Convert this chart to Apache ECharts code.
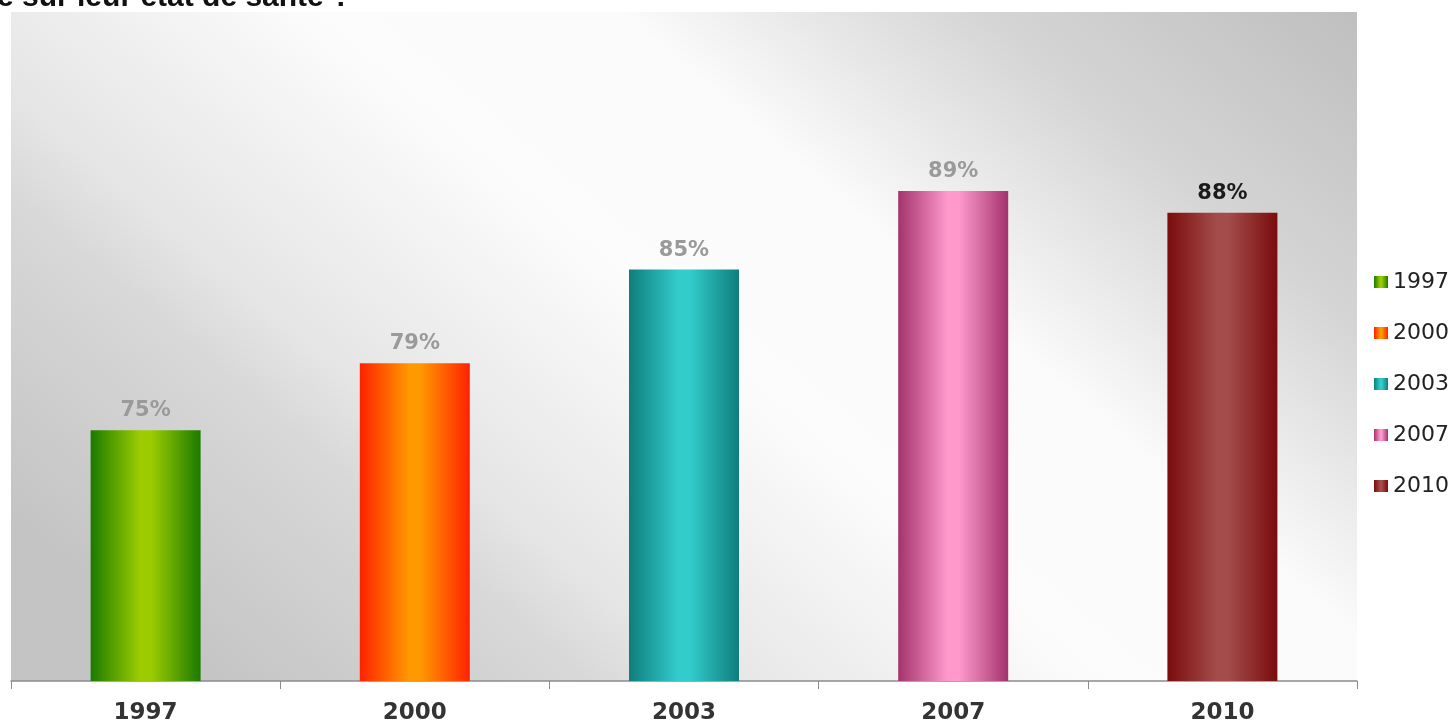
<!DOCTYPE html>
<html>
<head>
<meta charset="utf-8">
<script src="https://cdn.jsdelivr.net/npm/echarts@6/dist/echarts.min.js"></script>
<style>
    html, body {margin: 0; padding: 0; background: #fff;}
    #chart {width: 1456px; height: 725px;}
</style>
</head>
<body>
<div id="chart"></div>
<script>
var years = ['1997', '2000', '2003', '2007', '2010'];
var values = [75, 79, 84.6, 89.3, 88];
// couleurs des barres : bord, centre
var edgeColors = ['#1b7a00', '#ff2200', '#0e7e7c', '#a3336c', '#7a0c0c'];
var midColors = ['#9ccc00', '#ff9900', '#33cccc', '#ff99cc', '#a44c4c'];
var labelColors = ['#9a9a9a', '#9a9a9a', '#9a9a9a', '#9a9a9a', '#1a1a1a'];

function barGradient(i) {
    return new echarts.graphic.LinearGradient(0, 0, 1, 0, [
        {offset: 0, color: edgeColors[i]},
        {offset: 0.45, color: midColors[i]},
        {offset: 0.55, color: midColors[i]},
        {offset: 1, color: edgeColors[i]}
    ]);
}

var series = [];
for (var i = 0; i < years.length; i++) {
    var d = [];
    for (var j = 0; j < years.length; j++) {
        d.push(j == i ? values[i] : '-');
    }
    series.push({
        name: years[i],
        type: 'bar',
        stack: 'total',
        barWidth: 110,
        data: d,
        itemStyle: {color: barGradient(i)},
        label: {
            show: true,
            position: 'top',
            distance: 9,
            fontFamily: 'DejaVu Sans',
            fontSize: 21,
            fontWeight: 'bold',
            color: labelColors[i],
            formatter: function (p) {
                return Math.round(p.value) + '%';
            }
        }
    });
}

var myChart = echarts.init(document.getElementById('chart'));
myChart.setOption({
    animation: false,
    textStyle: {fontFamily: 'Liberation Sans'},
    graphic: [{
        type: 'text',
        x: -3,
        y: 13,
        style: {
            text: 'e sur leur état de santé ?',
            font: 'bold 30px "Liberation Sans"',
            fill: '#111',
            verticalAlign: 'bottom'
        }
    }],
    legend: {
        orient: 'vertical',
        left: 1374,
        top: 271,
        padding: 0,
        icon: 'rect',
        itemWidth: 14,
        itemHeight: 12,
        itemGap: 29,
        data: years,
        textStyle: {fontFamily: 'DejaVu Sans', fontSize: 22, color: '#222'}
    },
    grid: {
        left: 11,
        right: 99,
        top: 12,
        bottom: 42,
        show: true,
        borderWidth: 0,
        // bande claire en diagonale, gris en bas a gauche et en haut a droite
        backgroundColor: new echarts.graphic.LinearGradient(0.284, 1.24, 0.906, -0.242, [
            {offset: 0, color: '#c4c4c4'},
            {offset: 0.19, color: '#d8d8d8'},
            {offset: 0.25, color: '#e5e5e5'},
            {offset: 0.45, color: '#fcfcfc'},
            {offset: 0.6, color: '#fbfbfb'},
            {offset: 0.78, color: '#d5d5d5'},
            {offset: 1, color: '#bbbbbb'}
        ])
    },
    xAxis: {
        type: 'category',
        data: years,
        axisLine: {lineStyle: {color: '#8c8c8c', width: 1.5}},
        axisTick: {show: true, length: 8, lineStyle: {color: '#8c8c8c'}},
        axisLabel: {
            margin: 21,
            fontFamily: 'DejaVu Sans',
            fontSize: 23,
            fontWeight: 'bold',
            color: '#333'
        }
    },
    yAxis: {
        type: 'value',
        min: 60,
        max: 100,
        show: false,
        splitLine: {show: false}
    },
    series: series
});
</script>
</body>
</html>
